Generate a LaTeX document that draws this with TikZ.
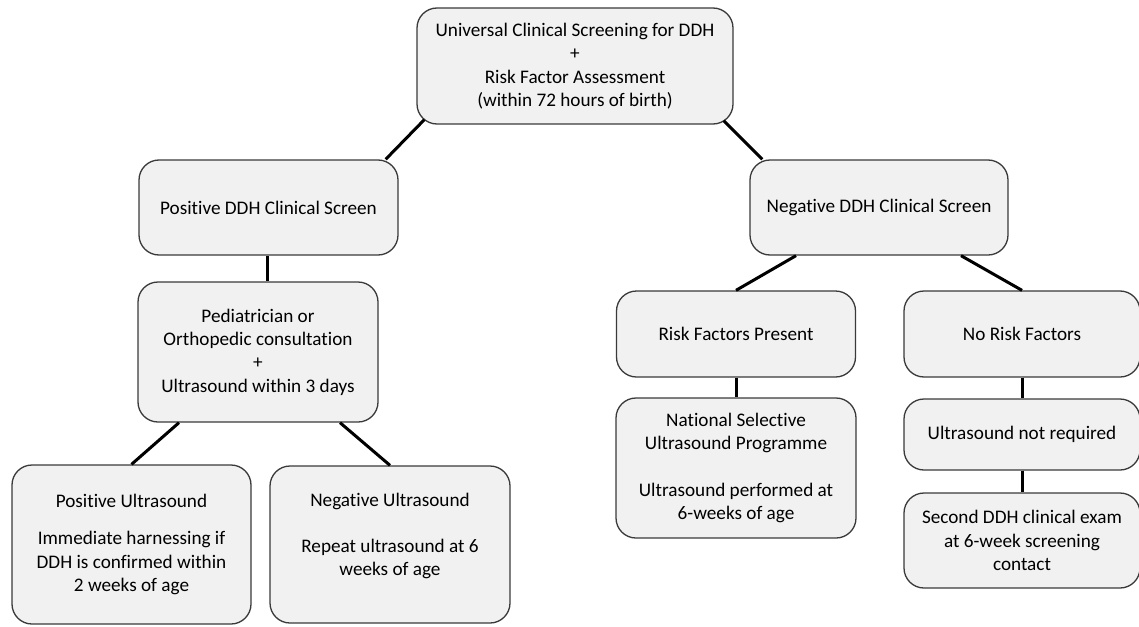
\documentclass[tikz,border=0pt]{standalone}
\usepackage{fontspec}
\setmainfont[Ligatures={NoCommon}]{Carlito}
\definecolor{boxfill}{HTML}{F1F1F1}
\definecolor{boxline}{HTML}{3A3A3A}
\tikzset{
  box/.style={draw=boxline, fill=boxfill, line width=1.3pt, rounded corners=20pt,
    inner sep=0pt, align=center, font=\fontsize{19.2}{23.4}\selectfont},
  link/.style={draw=black, line width=3pt}
}
\begin{document}
\begin{tikzpicture}[x=1pt,y=-1pt]
\useasboundingbox (0,0) rectangle (1139,626);
\node[box, minimum width=316pt, minimum height=116pt] (top) at (575,66)
  {Universal Clinical Screening for DDH\\+\\Risk Factor Assessment\\(within 72 hours of birth)};
\node[box, minimum width=259pt, minimum height=95pt] (pos) at (268.5,207.5)
  {Positive DDH Clinical Screen};
\node[box, minimum width=258pt, minimum height=95pt] (neg) at (879,207.5)
  {Negative DDH Clinical Screen};
\node[box, minimum width=240pt, minimum height=140pt] (ped) at (258,352)
  {Pediatrician or\\Orthopedic consultation\\+\\Ultrasound within 3 days};
\node[box, minimum width=239pt, minimum height=159pt] (posus) at (131.5,544.5)
  {Positive Ultrasound\\[14pt]Immediate harnessing if\\DDH is confirmed within\\2 weeks of age};
\node[box, minimum width=240pt, minimum height=157pt] (negus) at (390,544.5)
  {Negative Ultrasound\\[23pt]Repeat ultrasound at 6\\weeks of age\\[-3pt]~};
\node[box, minimum width=239pt, minimum height=86pt] (risk) at (736,334)
  {Risk Factors Present};
\node[box, minimum width=236pt, minimum height=86pt] (norisk) at (1022,334)
  {No Risk Factors};
\node[box, minimum width=240pt, minimum height=140pt] (nat) at (736,468)
  {National Selective\\Ultrasound Programme\\[23pt]Ultrasound performed at\\6-weeks of age};
\node[box, minimum width=236pt, minimum height=71pt] (usnot) at (1022,434.5)
  {Ultrasound not required};
\node[box, minimum width=236pt, minimum height=95pt] (second) at (1022,540.5)
  {Second DDH clinical exam\\at 6-week screening\\contact};
\draw[link] ([xshift=8pt,yshift=5pt]top.south west) -- ([xshift=-13pt]pos.north east);
\draw[link] ([xshift=-10pt,yshift=4pt]top.south east) -- ([xshift=13pt]neg.north west);
\draw[link] ([xshift=-1.5pt]pos.south) -- ([xshift=-1.5pt]pos.south |- ped.north);
\draw[link] ([xshift=-79pt]ped.south) -- (posus.north);
\draw[link] ([xshift=82pt]ped.south) -- (negus.north);
\draw[link] ([xshift=-83pt]neg.south) -- (risk.north);
\draw[link] ([xshift=82pt]neg.south) -- (norisk.north);
\draw[link] (risk.south) -- (nat.north);
\draw[link] (norisk.south) -- (usnot.north);
\draw[link] (usnot.south) -- (second.north);
\end{tikzpicture}
\end{document}
